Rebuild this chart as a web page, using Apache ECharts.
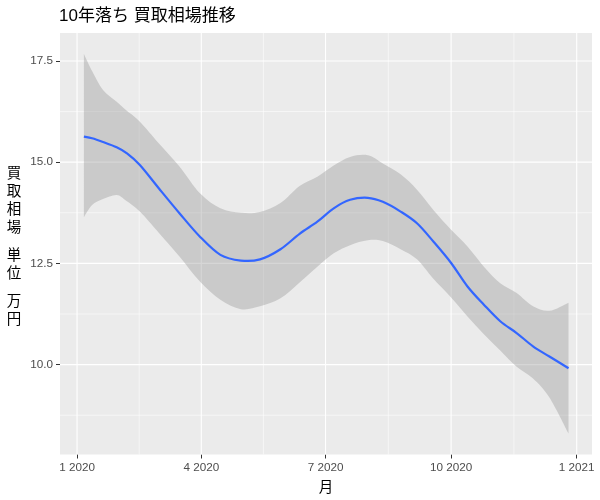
<!DOCTYPE html>
<html>
<head>
<meta charset="utf-8">
<script src="https://cdn.jsdelivr.net/npm/echarts@6/dist/echarts.min.js"></script>
<style>html,body{margin:0;padding:0;background:#fff}#c{width:600px;height:500px}</style>
</head>
<body>
<div id="c"></div>
<script>
// ---- data ----
const dates = ['2020-01-06','2020-01-12','2020-01-20','2020-01-30','2020-02-06','2020-02-16','2020-03-01','2020-03-16','2020-03-31','2020-04-15','2020-04-30','2020-05-14','2020-05-29','2020-06-12','2020-06-25','2020-07-07','2020-07-19','2020-08-01','2020-08-12','2020-08-25','2020-09-06','2020-09-18','2020-10-01','2020-10-13','2020-10-25','2020-11-06','2020-11-18','2020-11-30','2020-12-12','2020-12-26'];
const smoothMean = [15.63,15.59,15.50,15.37,15.23,14.93,14.35,13.74,13.16,12.71,12.57,12.60,12.85,13.23,13.53,13.86,14.07,14.12,14.02,13.78,13.49,13.04,12.51,11.93,11.48,11.07,10.78,10.45,10.20,9.91];
const upperCI = [17.67,17.25,16.78,16.49,16.28,16.00,15.46,14.89,14.23,13.86,13.75,13.77,13.99,14.41,14.64,14.92,15.13,15.17,14.97,14.70,14.32,13.82,13.33,12.92,12.42,12.01,11.77,11.44,11.33,11.53];
const lowerCI = [13.64,13.94,14.09,14.19,14.05,13.78,13.25,12.67,12.05,11.60,11.37,11.44,11.64,12.03,12.42,12.75,12.95,13.07,13.05,12.85,12.60,12.12,11.66,11.19,10.75,10.35,9.95,9.66,9.19,8.30];
const xTickDates = ['2020-01-01','2020-04-01','2020-07-01','2020-10-01','2021-01-01'];
const xTickLabels = ['1 2020','4 2020','7 2020','10 2020','1 2021'];
const yTicks = [10.0, 12.5, 15.0, 17.5];
const titleText = '10年落ち 買取相場推移';
const xTitle = '月';
const yTitleLines = [['買','取','相','場'],['単','位'],['万','円']];

// ---- helpers: dates -> days since 2020-01-01 ----
const DAY = 86400000;
const origin = Date.UTC(2020, 0, 1);
function dayOf(s){ const p = s.split('-').map(Number); return (Date.UTC(p[0], p[1]-1, p[2]) - origin) / DAY; }
const xDays = dates.map(dayOf);
const xTickDays = xTickDates.map(dayOf);
const xMinorDays = [];
for (let i = 0; i < xTickDays.length - 1; i++) xMinorDays.push((xTickDays[i] + xTickDays[i+1]) / 2);
const yMinor = [yTicks[0] - (yTicks[1]-yTicks[0])/2];
for (let i = 0; i < yTicks.length - 1; i++) yMinor.push((yTicks[i] + yTicks[i+1]) / 2);

const xMin = -12.5, xMax = 377.2;
const yMin = 7.78, yMax = 18.19;

const FONT = "'Liberation Sans', Arial, 'Noto Sans CJK JP', sans-serif";

const vGrid = xTickDays.map(t => [t, 12, 1.1]).concat(xMinorDays.map(t => [t, 12, 0.55]));
const hGrid = yTicks.map(v => [0, v, 1.1]).concat(yMinor.map(v => [0, v, 0.55]));

const rich = { c: { fontSize: 14.5, lineHeight: 18.2, fontFamily: FONT, color: '#000' }, g: { fontSize: 4, lineHeight: 9.5 } };
const yTitle = yTitleLines.map(grp => grp.map(ch => '{c|' + ch + '}').join('\n')).join('\n{g| }\n');

// Catmull-Rom smoothed path segments through pixel points (rendering only)
function crSegs(pts) {
  let d = '';
  for (let i = 0; i < pts.length - 1; i++) {
    const p0 = pts[Math.max(i - 1, 0)], p1 = pts[i], p2 = pts[i + 1], p3 = pts[Math.min(i + 2, pts.length - 1)];
    const c1x = p1[0] + (p2[0] - p0[0]) / 6, c1y = p1[1] + (p2[1] - p0[1]) / 6;
    const c2x = p2[0] - (p3[0] - p1[0]) / 6, c2y = p2[1] - (p3[1] - p1[1]) / 6;
    d += ' C' + c1x + ' ' + c1y + ' ' + c2x + ' ' + c2y + ' ' + p2[0] + ' ' + p2[1];
  }
  return d;
}

const chart = echarts.init(document.getElementById('c'), null, { renderer: 'canvas' });
chart.setOption({
  animation: false,
  title: { text: titleText, left: 59, top: 8, padding: 0,
    textStyle: { fontSize: 17, fontWeight: 'normal', color: '#000', fontFamily: FONT } },
  grid: { left: 60, right: 8, top: 33, bottom: 45, show: true, backgroundColor: '#EBEBEB', borderWidth: 0, containLabel: false },
  xAxis: {
    type: 'value', min: xMin, max: xMax,
    name: xTitle, nameLocation: 'middle', nameGap: 26,
    nameTextStyle: { fontSize: 14.5, color: '#000', fontFamily: FONT },
    axisLine: { show: false, onZero: false },
    axisTick: { show: true, length: 4, lineStyle: { color: '#333', width: 1 }, customValues: xTickDays },
    axisLabel: { show: true, margin: 7, fontSize: 11.7, color: '#4D4D4D', fontFamily: FONT,
      customValues: xTickDays,
      formatter: v => { const i = xTickDays.indexOf(v); return i >= 0 ? xTickLabels[i] : ''; } },
    splitLine: { show: false }
  },
  yAxis: {
    type: 'value', min: yMin, max: yMax,
    name: yTitle, nameLocation: 'middle', nameRotate: 0, nameGap: 46,
    nameTextStyle: { rich: rich, align: 'center', verticalAlign: 'middle', padding: [6, 0, 0, 0] },
    axisLine: { show: false, onZero: false },
    axisTick: { show: true, length: 4, lineStyle: { color: '#333', width: 1 }, customValues: yTicks },
    axisLabel: { show: true, margin: 7, fontSize: 11.7, color: '#4D4D4D', fontFamily: FONT,
      customValues: yTicks, formatter: v => v.toFixed(1) },
    splitLine: { show: false }
  },
  series: [
    { type: 'custom', z: 1, silent: true, data: vGrid,
      renderItem: (params, api) => {
        const x = api.coord([api.value(0), api.value(1)])[0];
        const cs = params.coordSys;
        return { type: 'line', shape: { x1: x, y1: cs.y, x2: x, y2: cs.y + cs.height },
          style: { stroke: '#FFFFFF', lineWidth: api.value(2) } };
      } },
    { type: 'custom', z: 1, silent: true, data: hGrid,
      renderItem: (params, api) => {
        const y = api.coord([api.value(0), api.value(1)])[1];
        const cs = params.coordSys;
        return { type: 'line', shape: { x1: cs.x, y1: y, x2: cs.x + cs.width, y2: y },
          style: { stroke: '#FFFFFF', lineWidth: api.value(2) } };
      } },
    { type: 'custom', z: 3, silent: true, data: [[xDays[0], upperCI[0]]],
      renderItem: (params, api) => {
        const up = xDays.map((d, i) => api.coord([d, upperCI[i]]));
        const lo = xDays.map((d, i) => api.coord([d, lowerCI[i]])).reverse();
        const d = 'M' + up[0][0] + ' ' + up[0][1] + crSegs(up) +
                  ' L' + lo[0][0] + ' ' + lo[0][1] + crSegs(lo) + ' Z';
        return { type: 'path', shape: { pathData: d }, style: { fill: 'rgba(153,153,153,0.4)', stroke: null } };
      } },
    { type: 'custom', z: 4, silent: true, data: [[xDays[0], smoothMean[0]]],
      renderItem: (params, api) => {
        const pts = xDays.map((d, i) => api.coord([d, smoothMean[i]]));
        const d = 'M' + pts[0][0] + ' ' + pts[0][1] + crSegs(pts);
        return { type: 'path', shape: { pathData: d },
          style: { fill: null, stroke: '#3366FF', lineWidth: 2.2, lineJoin: 'round' } };
      } }
  ]
});
</script>
</body>
</html>
